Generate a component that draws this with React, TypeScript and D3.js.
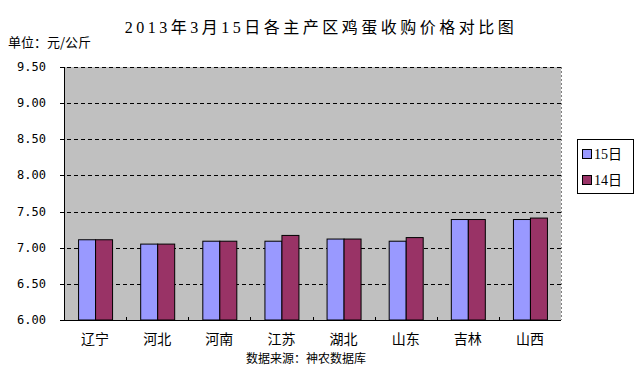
import React from "react";
import * as d3 from "d3";

const categories = ["辽宁", "河北", "河南", "江苏", "湖北", "山东", "吉林", "山西"];
const series15 = [7.11, 7.05, 7.09, 7.09, 7.12, 7.09, 7.39, 7.39];
const series14 = [7.11, 7.05, 7.09, 7.17, 7.12, 7.14, 7.39, 7.41];
const seriesNames = ["15日", "14日"];
const yTicks = [6.0, 6.5, 7.0, 7.5, 8.0, 8.5, 9.0, 9.5];
const title = "2013年3月15日各主产区鸡蛋收购价格对比图";
const unitLabel = "单位：元/公斤";
const sourceLabel = "数据来源：神农数据库";

const colors = ["#9999ff", "#993366"];

export default function App() {
  const W = 640, H = 371;
  const left = 64, right = 561, top = 67, bottom = 320;
  const x = d3.scaleBand<string>().domain(categories).range([left, right]).paddingInner(0).paddingOuter(0);
  const y = d3.scaleLinear().domain([6, 9.5]).range([bottom, top]);
  const bw = 17;
  const all = [series15, series14];
  const cjk = "'Noto Sans CJK SC', sans-serif";
  const serif = "'Liberation Serif', 'Noto Sans CJK SC', serif";
  return (
    <svg width={W} height={H} style={{ position: "absolute", left: 0, top: 0, background: "#fff" }}>
      <rect x={0} y={0} width={W} height={H} fill="#fff" />
      <text x={321} y={33} textAnchor="middle" fontSize={16} letterSpacing={3.5}
        fontFamily={serif} fill="#000">{title}</text>
      <text x={8} y={47} fontSize={13} fontFamily={cjk} fill="#000">{unitLabel}</text>
      <rect x={left} y={top} width={right - left} height={bottom - top} fill="#c0c0c0" />
      {yTicks.filter(t => t > 6).map(t => (
        <line key={t} x1={left - 4} x2={right} y1={Math.round(y(t)) + 0.5} y2={Math.round(y(t)) + 0.5}
          stroke="#000" strokeWidth={1} strokeDasharray="4,3" />
      ))}
      <line x1={right + 0.5} x2={right + 0.5} y1={top} y2={bottom} stroke="#808080" strokeDasharray="2,2" />
      {categories.map((c, i) => (
        <g key={c}>
          {all.map((s, j) => {
            const cx = (x(c) as number) + x.bandwidth() / 2;
            const bx = cx - bw + j * bw;
            return (
              <rect key={j} x={bx + 0.5} y={y(s[i])} width={bw} height={bottom - y(s[i])}
                fill={colors[j]} stroke="#000" strokeWidth={1} />
            );
          })}
        </g>
      ))}
      <line x1={left + 0.5} x2={left + 0.5} y1={top} y2={bottom} stroke="#000" />
      <line x1={left - 4} x2={right} y1={bottom + 0.5} y2={bottom + 0.5} stroke="#000" />
      {categories.slice(1).map(c => (
        <line key={c} x1={Math.round(x(c) as number) + 0.5} x2={Math.round(x(c) as number) + 0.5}
          y1={bottom - 3} y2={bottom} stroke="#000" />
      ))}
      {yTicks.map(t => (
        <text key={t} x={46} y={y(t) + 4} textAnchor="end" fontSize={12}
          fontFamily="'DejaVu Sans Mono', monospace" fill="#000">{t.toFixed(2)}</text>
      ))}
      {categories.map(c => (
        <text key={c} x={(x(c) as number) + x.bandwidth() / 2} y={344} textAnchor="middle"
          fontSize={14} fontFamily={cjk} fill="#000">{c}</text>
      ))}
      <text x={306} y={363} textAnchor="middle" fontSize={12} fontFamily={cjk} fill="#000">{sourceLabel}</text>
      <rect x={577.5} y={139.5} width={56} height={54} fill="#fff" stroke="#000" />
      {seriesNames.map((n, j) => (
        <g key={n}>
          <rect x={582.5} y={149.5 + j * 26} width={9} height={9} fill={colors[j]} stroke="#000" />
          <text x={594} y={159 + j * 26} fontSize={14} fontFamily={serif} fill="#000">{n}</text>
        </g>
      ))}
    </svg>
  );
}
